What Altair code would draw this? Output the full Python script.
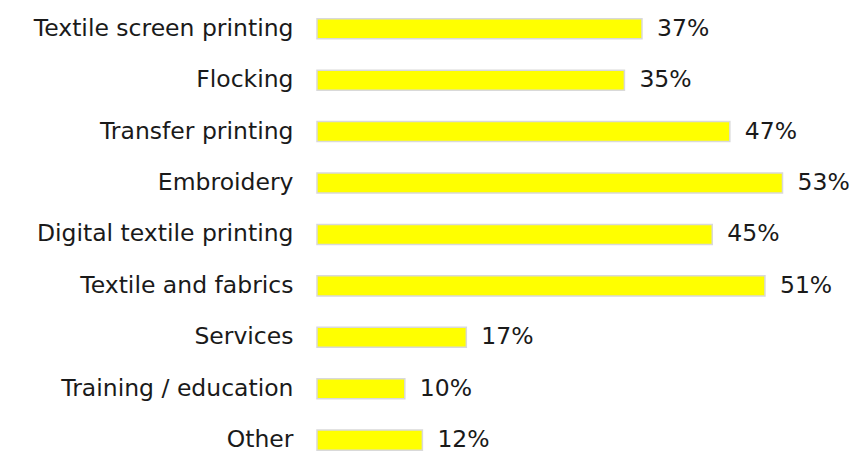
import altair as alt
import pandas as pd

categories = ["Textile screen printing", "Flocking", "Transfer printing", "Embroidery",
              "Digital textile printing", "Textile and fabrics", "Services",
              "Training / education", "Other"]
values = [37, 35, 47, 53, 45, 51, 17, 10, 12]
labels = [f"{v}%" for v in values]

df = pd.DataFrame({"cat": categories, "val": values, "lab": labels})

FONT = "DejaVu Sans"
FS = 23.5

yscale = alt.Scale(paddingInner=0.61, paddingOuter=0.2, align=0.91)
y = alt.Y("cat:N", sort=categories, scale=yscale, title=None)
x = alt.X("val:Q", scale=alt.Scale(domain=[0, 60]), axis=None)

bars = alt.Chart(df).mark_bar(color="#ffff00", stroke="#d9d9d9", strokeWidth=1.5).encode(y=y, x=x)
text = alt.Chart(df).mark_text(align="left", dx=15, font=FONT, fontSize=FS, color="#1a1a1a").encode(
    y=y, x=x, text="lab:N")

chart = (bars + text).properties(
    width=527, height=452, background="white",
    autosize=alt.AutoSizeParams(type="none"),
    padding={"left": 317, "top": 0, "right": 10, "bottom": 0},
).configure_view(strokeWidth=0, stroke="transparent").configure_axis(
    ticks=False, domain=False, grid=False, labelPadding=24,
    labelFont=FONT, labelFontSize=FS, labelColor="#1a1a1a", labelLimit=400
)

chart.save("out.html", embed_options={"renderer": "svg", "actions": False})
